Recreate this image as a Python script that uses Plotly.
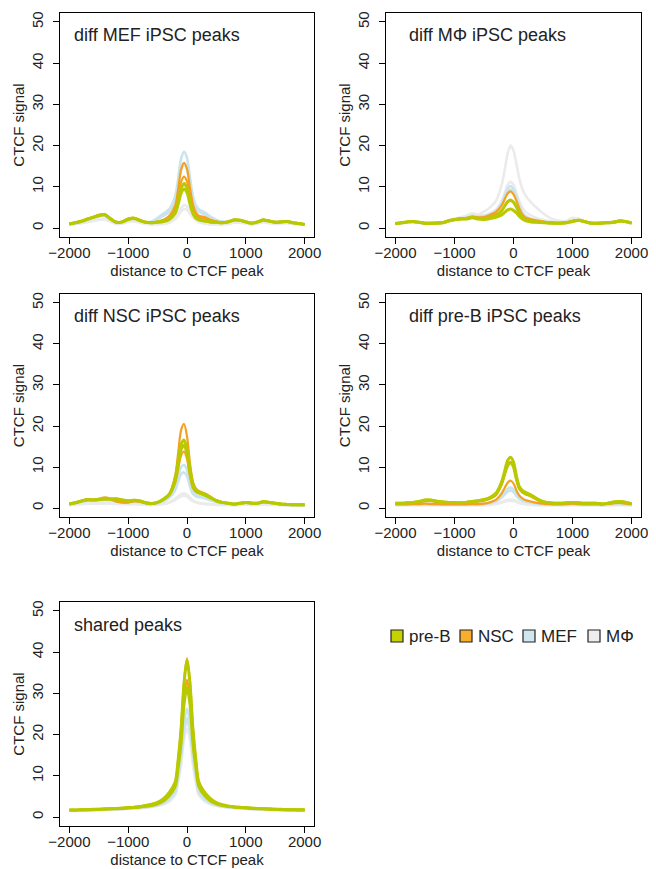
import plotly.graph_objects as go

# ---------------- data ----------------
DIST = [-2000, -1900, -1800, -1700, -1600, -1500, -1400, -1300, -1200, -1100, -1000,
        -900, -800, -700, -600, -500, -400, -300, -200, -150, -100, -50, 0, 50, 100,
        150, 200, 300, 400, 500, 600, 700, 800, 900, 1000, 1100, 1200, 1300, 1400,
        1500, 1600, 1700, 1800, 1900, 2000]

PANEL_TITLES = ["diff MEF iPSC peaks", "diff MΦ iPSC peaks", "diff NSC iPSC peaks",
                "diff pre-B iPSC peaks", "shared peaks"]
CELL_TYPES = ["pre-B", "NSC", "MEF", "MΦ"]
X_TICKS = [-2000, -1000, 0, 1000, 2000]
Y_TICKS = [0, 10, 20, 30, 40, 50]

# panel 1: diff MEF iPSC peaks
p1_preB_1 = [1.0,1.3,1.7,2.2,2.6,3.1,3.3,2.3,1.4,1.5,2.2,2.4,1.9,1.4,1.3,1.5, 1.7,2.3,4.0,6.5,9.6,10.8,9.7,6.6,3.9,2.6,2.1,1.8, 1.5,1.4,1.3,1.5,2.0,1.9,1.5,1.2,1.5,2.0,1.7,1.4,1.5,1.6,1.3,1.1,0.9]
p1_preB_2 = [1.0,1.3,1.6,2.1,2.6,3.0,3.2,2.2,1.4,1.5,2.1,2.3,1.8,1.4,1.3,1.4, 1.6,2.1,3.6,5.8,8.5,9.5,8.6,5.8,3.5,2.4,2.0,1.7, 1.5,1.4,1.3,1.5,1.9,1.9,1.5,1.2,1.5,1.9,1.7,1.4,1.5,1.6,1.3,1.1,0.9]
p1_nsc_1 = [1.0,1.3,1.7,2.2,2.7,3.2,3.4,2.3,1.4,1.6,2.3,2.5,1.9,1.4,1.3,1.6, 2.0,3.0,5.5,9.5,14.2,15.8,14.3,9.8,5.8,3.8,3.0,2.7, 2.0,1.6,1.4,1.5,2.0,1.9,1.5,1.2,1.5,2.0,1.7,1.4,1.5,1.6,1.3,1.1,0.9]
p1_nsc_2 = [1.0,1.3,1.7,2.1,2.6,3.1,3.3,2.2,1.4,1.5,2.2,2.4,1.9,1.4,1.3,1.5, 1.9,2.6,4.6,7.6,11.2,12.5,11.3,7.7,4.6,3.2,2.6,2.3, 1.8,1.5,1.4,1.5,2.0,1.9,1.5,1.2,1.5,2.0,1.7,1.4,1.5,1.6,1.3,1.1,0.9]
p1_mef_1 = [1.0,1.3,1.6,2.0,2.5,3.0,3.1,2.1,1.3,1.5,2.1,2.3,1.8,1.4,1.6,2.5, 3.5,4.6,7.8,12.0,16.8,18.5,17.0,12.3,7.8,5.5,4.6,3.8, 2.8,2.0,1.6,1.6,2.0,1.9,1.6,1.3,1.5,1.9,1.7,1.5,1.6,1.7,1.4,1.1,0.9]
p1_mef_2 = [1.0,1.2,1.5,1.9,2.4,2.9,3.0,2.0,1.3,1.4,2.0,2.2,1.7,1.3,1.5,2.2, 3.0,4.0,6.8,10.3,14.2,15.6,14.3,10.4,6.8,4.8,4.0,3.3, 2.5,1.8,1.5,1.5,1.9,1.8,1.5,1.2,1.4,1.8,1.6,1.4,1.5,1.6,1.3,1.0,0.8]
p1_mf_1 = [0.9,1.1,1.3,1.5,1.8,2.2,2.3,1.6,1.1,1.2,1.6,1.8,1.4,1.1,1.0,1.0, 1.1,1.5,2.6,3.6,4.9,5.6,5.3,4.2,3.0,2.2,1.6,1.2, 1.0,0.9,0.9,1.1,1.4,1.4,1.2,1.0,1.2,1.5,1.3,1.1,1.2,1.3,1.1,0.9,0.8]
p1_mf_2 = [0.9,1.0,1.2,1.4,1.7,2.0,2.1,1.5,1.0,1.1,1.5,1.6,1.3,1.0,0.9,0.9, 1.0,1.3,2.2,3.0,4.1,4.6,4.4,3.5,2.5,1.9,1.4,1.1, 0.9,0.9,0.9,1.0,1.3,1.3,1.1,0.9,1.1,1.4,1.2,1.0,1.1,1.2,1.0,0.9,0.8]

# panel 2: diff MΦ iPSC peaks
p2_preB_1 = [1.1,1.3,1.5,1.6,1.4,1.2,1.2,1.2,1.3,1.7,2.0,2.2,2.3,2.6,2.3,2.2, 2.5,3.0,4.2,5.3,6.4,6.8,6.3,5.1,3.6,2.6,2.0,1.7, 1.5,1.4,1.3,1.2,1.2,1.3,1.6,1.9,1.6,1.2,1.2,1.2,1.3,1.4,1.7,1.6,1.2]
p2_preB_2 = [1.1,1.3,1.5,1.6,1.4,1.2,1.2,1.2,1.3,1.7,2.0,2.2,2.2,2.5,2.2,2.1, 2.3,2.6,3.2,3.8,4.4,4.6,4.3,3.7,2.8,2.2,1.8,1.5, 1.4,1.3,1.2,1.2,1.2,1.3,1.6,1.9,1.6,1.2,1.2,1.2,1.3,1.4,1.7,1.6,1.2]
p2_nsc_1 = [1.1,1.3,1.5,1.6,1.4,1.2,1.2,1.3,1.4,1.8,2.1,2.3,2.4,2.8,2.6,2.7, 3.2,3.9,5.5,7.0,8.4,8.9,8.2,6.6,4.7,3.3,2.6,2.1, 1.8,1.6,1.4,1.3,1.3,1.4,1.7,1.9,1.6,1.3,1.2,1.3,1.4,1.5,1.8,1.6,1.3]
p2_nsc_2 = [1.1,1.3,1.5,1.6,1.4,1.2,1.2,1.3,1.4,1.8,2.1,2.3,2.4,2.7,2.5,2.5, 2.9,3.3,4.4,5.4,6.3,6.6,6.2,5.1,3.7,2.8,2.3,1.9, 1.7,1.5,1.4,1.3,1.3,1.4,1.7,1.9,1.6,1.3,1.2,1.3,1.4,1.5,1.8,1.6,1.3]
p2_mef_1 = [1.0,1.2,1.4,1.5,1.3,1.2,1.2,1.3,1.4,1.8,2.1,2.3,2.5,2.9,2.8,2.9, 3.4,4.2,6.0,7.8,9.5,10.2,9.4,7.6,5.5,3.8,2.9,2.2, 1.9,1.6,1.4,1.3,1.3,1.5,1.8,1.9,1.6,1.3,1.2,1.3,1.4,1.5,1.7,1.5,1.2]
p2_mef_2 = [1.0,1.2,1.4,1.5,1.3,1.2,1.2,1.3,1.4,1.8,2.1,2.3,2.4,2.8,2.7,2.8, 3.2,4.0,5.6,7.2,8.8,9.3,8.6,7.0,5.1,3.6,2.8,2.1, 1.8,1.5,1.4,1.3,1.3,1.5,1.8,1.9,1.6,1.3,1.2,1.3,1.4,1.5,1.7,1.5,1.2]
p2_mf_1 = [1.0,1.2,1.4,1.5,1.3,1.2,1.3,1.4,1.5,1.9,2.3,2.6,3.0,3.6,3.3,4.0, 5.0,6.5,10.5,14.0,18.0,20.0,18.8,15.5,12.0,9.5,8.0,6.2, 4.8,3.6,2.6,2.0,1.7,1.8,2.5,2.3,1.7,1.3,1.2,1.3,1.4,1.5,1.8,1.6,1.3]
p2_mf_2 = [1.0,1.2,1.4,1.5,1.3,1.2,1.2,1.3,1.4,1.8,2.2,2.4,2.7,3.1,2.9,3.1, 3.6,4.4,6.6,8.5,10.5,11.2,10.5,8.5,6.5,5.0,4.0,3.0, 2.4,2.0,1.7,1.5,1.4,1.5,1.9,1.9,1.6,1.3,1.2,1.3,1.4,1.5,1.7,1.5,1.2]

# panel 3: diff NSC iPSC peaks
p3_preB_1 = [1.0,1.3,1.7,2.0,2.0,2.1,2.2,2.2,2.3,2.0,1.8,1.9,1.8,1.3,1.1,1.4, 2.2,3.4,7.2,11.5,15.5,16.6,14.5,9.5,5.8,4.4,3.9,3.4, 2.6,1.8,1.4,1.2,1.0,1.2,1.4,1.2,1.2,1.6,1.4,1.2,1.0,0.9,0.8,0.8,0.8]
p3_preB_2 = [1.0,1.3,1.7,2.0,2.0,2.1,2.2,2.2,2.2,1.9,1.7,1.9,1.7,1.3,1.1,1.4, 2.1,3.3,6.8,10.8,14.3,15.3,13.5,8.8,5.5,4.2,3.7,3.2, 2.5,1.8,1.4,1.2,1.0,1.2,1.4,1.2,1.2,1.5,1.4,1.2,1.0,0.9,0.8,0.8,0.8]
p3_nsc_1 = [1.0,1.3,1.8,2.2,2.1,2.3,2.6,2.3,1.7,1.4,1.4,1.7,1.6,1.2,1.1,1.4, 2.2,3.5,8.0,13.5,19.0,20.5,17.5,11.0,6.5,4.8,4.2,3.6, 2.8,1.9,1.4,1.2,1.0,1.2,1.4,1.3,1.2,1.6,1.4,1.2,1.0,0.9,0.8,0.8,0.8]
p3_nsc_2 = [1.0,1.3,1.7,2.1,2.0,2.2,2.4,2.1,1.6,1.4,1.4,1.7,1.6,1.2,1.1,1.4, 2.1,3.2,6.2,9.5,12.9,13.8,12.0,7.8,4.9,4.0,3.6,3.2, 2.5,1.8,1.4,1.2,1.0,1.2,1.4,1.2,1.2,1.5,1.4,1.2,1.0,0.9,0.8,0.8,0.8]
p3_mef_1 = [1.0,1.2,1.5,1.8,1.8,1.9,2.0,1.9,1.7,1.5,1.4,1.6,1.5,1.1,1.0,1.2, 1.8,2.7,5.0,7.6,10.0,10.5,9.3,6.2,3.9,3.2,2.9,2.6, 2.0,1.5,1.2,1.1,0.9,1.1,1.3,1.1,1.1,1.4,1.3,1.1,0.9,0.8,0.8,0.7,0.7]
p3_mef_2 = [1.0,1.2,1.5,1.8,1.8,1.9,2.0,1.9,1.7,1.5,1.4,1.6,1.5,1.1,1.0,1.2, 1.7,2.5,4.4,6.5,8.3,8.7,7.8,5.3,3.5,2.9,2.7,2.4, 1.9,1.5,1.2,1.1,0.9,1.1,1.3,1.1,1.1,1.4,1.3,1.1,0.9,0.8,0.8,0.7,0.7]
p3_mf_1 = [0.8,0.9,1.0,1.1,1.1,1.2,1.2,1.2,1.1,1.0,1.0,1.0,0.9,0.8,0.8,0.9, 1.1,1.5,2.3,2.9,3.4,3.6,3.3,2.6,1.9,1.5,1.3,1.1, 1.0,0.9,0.8,0.8,0.7,0.8,0.9,0.8,0.8,0.9,0.9,0.8,0.7,0.7,0.7,0.7,0.7]
p3_mf_2 = [0.8,0.9,1.0,1.1,1.1,1.1,1.2,1.1,1.0,1.0,0.9,1.0,0.9,0.8,0.8,0.9, 1.0,1.3,2.0,2.5,2.9,3.0,2.8,2.2,1.7,1.4,1.2,1.0, 0.9,0.8,0.8,0.8,0.7,0.8,0.9,0.8,0.8,0.9,0.8,0.8,0.7,0.7,0.7,0.7,0.7]

# panel 4: diff pre-B iPSC peaks
p4_preB_1 = [1.2,1.2,1.3,1.4,1.6,2.0,2.0,1.7,1.5,1.4,1.4,1.3,1.4,1.6,1.8,2.1, 2.6,3.6,6.5,9.0,11.6,12.4,11.2,7.8,5.2,4.3,3.9,3.2, 2.3,1.6,1.3,1.2,1.2,1.3,1.4,1.3,1.2,1.2,1.2,1.0,1.2,1.5,1.6,1.4,1.1]
p4_preB_2 = [1.2,1.2,1.3,1.4,1.6,1.9,1.9,1.7,1.5,1.4,1.4,1.3,1.4,1.6,1.8,2.0, 2.5,3.4,6.0,8.2,10.3,11.0,10.0,7.0,4.8,4.0,3.6,3.0, 2.2,1.6,1.3,1.2,1.2,1.3,1.4,1.3,1.2,1.2,1.2,1.0,1.2,1.5,1.6,1.4,1.1]
p4_nsc_1 = [1.1,1.1,1.2,1.3,1.4,1.7,1.7,1.5,1.4,1.3,1.3,1.2,1.3,1.5,1.6,1.8, 2.3,3.1,5.8,8.3,10.6,11.3,10.2,7.0,4.7,3.8,3.4,2.8, 2.0,1.4,1.2,1.1,1.1,1.2,1.3,1.2,1.1,1.1,1.1,1.0,1.1,1.3,1.4,1.3,1.0]
p4_nsc_2 = [0.9,0.9,0.9,1.0,1.0,1.1,1.0,1.0,0.9,0.9,0.9,0.9,0.9,1.0,1.0,1.1, 1.4,2.0,3.6,4.9,6.2,6.7,6.0,4.3,3.0,2.4,2.0,1.6, 1.3,1.1,1.0,0.9,0.9,1.0,1.1,1.0,0.9,0.9,0.9,0.9,1.0,1.2,1.3,1.1,0.9]
p4_mef_1 = [0.9,0.9,0.9,0.9,1.0,1.0,1.0,0.9,0.9,0.9,0.9,0.9,0.9,0.9,1.0,1.1, 1.3,1.8,2.9,3.8,4.7,5.0,4.5,3.4,2.5,2.0,1.7,1.4, 1.1,1.0,0.9,0.9,0.9,0.9,1.0,0.9,0.9,0.9,0.9,0.8,0.9,1.0,1.1,1.0,0.8]
p4_mef_2 = [0.9,0.9,0.9,0.9,0.9,1.0,1.0,0.9,0.9,0.9,0.9,0.9,0.9,0.9,0.9,1.0, 1.2,1.6,2.6,3.3,4.0,4.3,3.9,3.0,2.2,1.8,1.6,1.3, 1.1,1.0,0.9,0.9,0.9,0.9,1.0,0.9,0.9,0.9,0.9,0.8,0.9,1.0,1.0,0.9,0.8]
p4_mf_1 = [0.7,0.7,0.7,0.7,0.7,0.8,0.8,0.7,0.7,0.7,0.7,0.7,0.7,0.7,0.7,0.8, 0.9,1.1,1.5,1.8,2.0,2.1,2.0,1.7,1.4,1.2,1.0,0.9, 0.8,0.7,0.7,0.7,0.7,0.7,0.8,0.7,0.7,0.7,0.7,0.7,0.7,0.8,0.8,0.7,0.7]
p4_mf_2 = [0.7,0.7,0.7,0.7,0.7,0.7,0.7,0.7,0.7,0.7,0.7,0.7,0.7,0.7,0.7,0.7, 0.8,1.0,1.3,1.6,1.8,1.8,1.7,1.5,1.2,1.0,0.9,0.8, 0.7,0.7,0.7,0.7,0.7,0.7,0.7,0.7,0.7,0.7,0.7,0.7,0.7,0.7,0.7,0.7,0.7]

# panel 5: shared peaks
p5_preB_1 = [1.7,1.7,1.8,1.8,1.9,1.9,2.0,2.0,2.1,2.2,2.3,2.4,2.6,2.8,3.1,3.6, 4.5,6.0,8.5,14.0,21.5,32.5,38.0,32.5,21.5,14.0,8.5,6.0, 4.5,3.5,3.0,2.7,2.5,2.4,2.3,2.2,2.1,2.0,2.0,1.9,1.9,1.8,1.8,1.8,1.8]
p5_preB_2 = [1.7,1.7,1.8,1.8,1.8,1.9,1.9,2.0,2.0,2.1,2.2,2.3,2.4,2.6,2.8,3.2, 3.9,5.2,7.5,12.0,18.0,27.5,31.5,27.5,18.0,12.0,7.5,5.2, 3.9,3.2,2.8,2.6,2.4,2.3,2.2,2.1,2.0,2.0,1.9,1.9,1.8,1.8,1.8,1.7,1.7]
p5_nsc_1 = [1.7,1.7,1.8,1.8,1.9,1.9,2.0,2.0,2.1,2.2,2.3,2.4,2.6,2.8,3.1,3.6, 4.4,5.9,8.5,14.0,21.8,33.0,38.5,33.0,21.8,14.0,8.5,5.9, 4.4,3.5,3.0,2.7,2.5,2.4,2.3,2.2,2.1,2.0,2.0,1.9,1.9,1.8,1.8,1.8,1.8]
p5_nsc_2 = [1.7,1.7,1.7,1.8,1.8,1.9,1.9,2.0,2.0,2.1,2.2,2.3,2.5,2.7,2.9,3.4, 4.1,5.5,7.9,12.8,19.2,29.0,33.3,29.0,19.2,12.8,7.9,5.5, 4.1,3.3,2.9,2.6,2.4,2.3,2.2,2.1,2.0,2.0,1.9,1.9,1.8,1.8,1.8,1.7,1.7]
p5_mef_1 = [1.6,1.6,1.7,1.7,1.8,1.8,1.9,1.9,2.0,2.0,2.1,2.2,2.3,2.5,2.7,3.0, 3.6,4.6,6.6,10.6,15.8,23.0,26.3,23.0,15.8,10.6,6.6,4.6, 3.6,3.0,2.7,2.4,2.3,2.2,2.1,2.0,2.0,1.9,1.9,1.8,1.8,1.7,1.7,1.7,1.7]
p5_mef_2 = [1.6,1.6,1.7,1.7,1.8,1.8,1.9,1.9,2.0,2.0,2.1,2.2,2.3,2.4,2.6,2.9, 3.4,4.3,6.1,9.8,14.5,21.0,24.0,21.0,14.5,9.8,6.1,4.3, 3.4,2.9,2.6,2.4,2.3,2.2,2.1,2.0,2.0,1.9,1.9,1.8,1.8,1.7,1.7,1.7,1.7]
p5_mf_1 = [1.5,1.5,1.6,1.6,1.7,1.7,1.8,1.8,1.9,1.9,2.0,2.1,2.2,2.3,2.5,2.8, 3.2,4.0,5.7,9.2,13.8,20.5,23.5,20.5,13.8,9.2,5.7,4.0, 3.2,2.8,2.5,2.3,2.2,2.1,2.0,1.9,1.9,1.8,1.8,1.7,1.7,1.7,1.6,1.6,1.6]
p5_mf_2 = [1.5,1.5,1.6,1.6,1.7,1.7,1.8,1.8,1.9,1.9,2.0,2.1,2.2,2.3,2.5,2.7, 3.1,3.8,5.3,8.5,12.7,18.8,21.5,18.8,12.7,8.5,5.3,3.8, 3.1,2.7,2.5,2.3,2.2,2.1,2.0,1.9,1.9,1.8,1.8,1.7,1.7,1.7,1.6,1.6,1.6]

PANELS = [
    {"pre-B": [p1_preB_1, p1_preB_2], "NSC": [p1_nsc_1, p1_nsc_2], "MEF": [p1_mef_1, p1_mef_2], "MΦ": [p1_mf_1, p1_mf_2]},
    {"pre-B": [p2_preB_1, p2_preB_2], "NSC": [p2_nsc_1, p2_nsc_2], "MEF": [p2_mef_1, p2_mef_2], "MΦ": [p2_mf_1, p2_mf_2]},
    {"pre-B": [p3_preB_1, p3_preB_2], "NSC": [p3_nsc_1, p3_nsc_2], "MEF": [p3_mef_1, p3_mef_2], "MΦ": [p3_mf_1, p3_mf_2]},
    {"pre-B": [p4_preB_1, p4_preB_2], "NSC": [p4_nsc_1, p4_nsc_2], "MEF": [p4_mef_1, p4_mef_2], "MΦ": [p4_mf_1, p4_mf_2]},
    {"pre-B": [p5_preB_1, p5_preB_2], "NSC": [p5_nsc_1, p5_nsc_2], "MEF": [p5_mef_1, p5_mef_2], "MΦ": [p5_mf_1, p5_mf_2]},
]

# ---------------- styling ----------------
PAGE_W, PAGE_H = 656, 869
OFF = 8                      # default page body margin
W, H = PAGE_W - OFF, PAGE_H - OFF
COLORS = {"pre-B": "#b9c900", "NSC": "#f5a01f", "MEF": "#c9e4ec", "MΦ": "#ebebeb"}
LEGEND_FILL = {"pre-B": "#c5d200", "NSC": "#f8ae2a", "MEF": "#cfe7ef", "MΦ": "#eeeeee"}
WIDTHS = {"pre-B": 3.0, "NSC": 2.2, "MEF": 2.6, "MΦ": 2.6}
DRAW_ORDER = ["MΦ", "MEF", "NSC", "pre-B"]
FONT = "Liberation Sans, Arial, Helvetica, sans-serif"
TXT = "#222222"


def px(x):
    return (x - OFF) / W


def py(y):
    return 1 - (y - OFF) / H


# page-pixel boxes of the plot frames: (left, right, top, bottom)
BOXES = [(60, 314, 13, 237), (386, 641, 13, 237), (60, 314, 294, 517),
         (386, 641, 294, 517), (60, 314, 602, 826)]
TITLE_POS = [(72, 35), (407, 35), (72, 316), (407, 316), (72, 625)]

fig = go.Figure()
layout = dict(width=W, height=H, margin=dict(l=0, r=0, t=0, b=0),
              paper_bgcolor="white", plot_bgcolor="white", showlegend=False,
              font=dict(family=FONT, size=15, color=TXT))
annotations = []
shapes = []

for i, (panel, box) in enumerate(zip(PANELS, BOXES)):
    k = "" if i == 0 else str(i + 1)
    for ct in DRAW_ORDER:
        for ys in panel[ct]:
            fig.add_trace(go.Scatter(
                x=DIST, y=ys, mode="lines", xaxis="x" + k, yaxis="y" + k,
                line=dict(color=COLORS[ct], width=WIDTHS[ct], shape="spline", smoothing=0.8),
                name=ct, hoverinfo="skip"))
    l, r, t, b = box
    axis_common = dict(showgrid=False, zeroline=False, showline=True, mirror=True,
                       linecolor="black", linewidth=1.4, ticks="outside", ticklen=6,
                       tickwidth=1.2, tickcolor="black", automargin=False,
                       tickfont=dict(family=FONT, size=15, color=TXT))
    layout["xaxis" + k] = dict(axis_common, domain=[px(l), px(r)], anchor="y" + k,
                               range=[-2160, 2160], tickvals=X_TICKS,
                               ticklabelstandoff=-4,
                               title=dict(text="distance to CTCF peak", standoff=5,
                                          font=dict(family=FONT, size=15, color=TXT)))
    layout["yaxis" + k] = dict(axis_common, domain=[py(b), py(t)], anchor="x" + k,
                               range=[-2.16, 52.16], tickvals=Y_TICKS, tickangle=-90,
                               ticklabelstandoff=4,
                               title=dict(text="CTCF signal", standoff=0,
                                          font=dict(family=FONT, size=15, color=TXT)))
    tx, ty = TITLE_POS[i]
    annotations.append(dict(text=PANEL_TITLES[i], x=px(tx), y=py(ty), xref="paper",
                            yref="paper", xanchor="left", yanchor="middle", showarrow=False,
                            font=dict(family=FONT, size=18, color=TXT)))

# legend (manual, squares + labels)
LEG_Y = 636
LEG_X = [391, 460, 523, 588]
for ct, lx in zip(CELL_TYPES, LEG_X):
    shapes.append(dict(type="rect", xref="paper", yref="paper",
                       x0=px(lx), x1=px(lx + 12), y0=py(LEG_Y + 6), y1=py(LEG_Y - 6),
                       fillcolor=LEGEND_FILL[ct], line=dict(color=TXT, width=1.2)))
    annotations.append(dict(text=ct, x=px(lx + 16), y=py(LEG_Y), xref="paper",
                            yref="paper", xanchor="left", yanchor="middle", showarrow=False,
                            font=dict(family=FONT, size=17, color=TXT)))

layout["annotations"] = annotations
layout["shapes"] = shapes
fig.update_layout(**layout)
fig.write_html("out.html")
